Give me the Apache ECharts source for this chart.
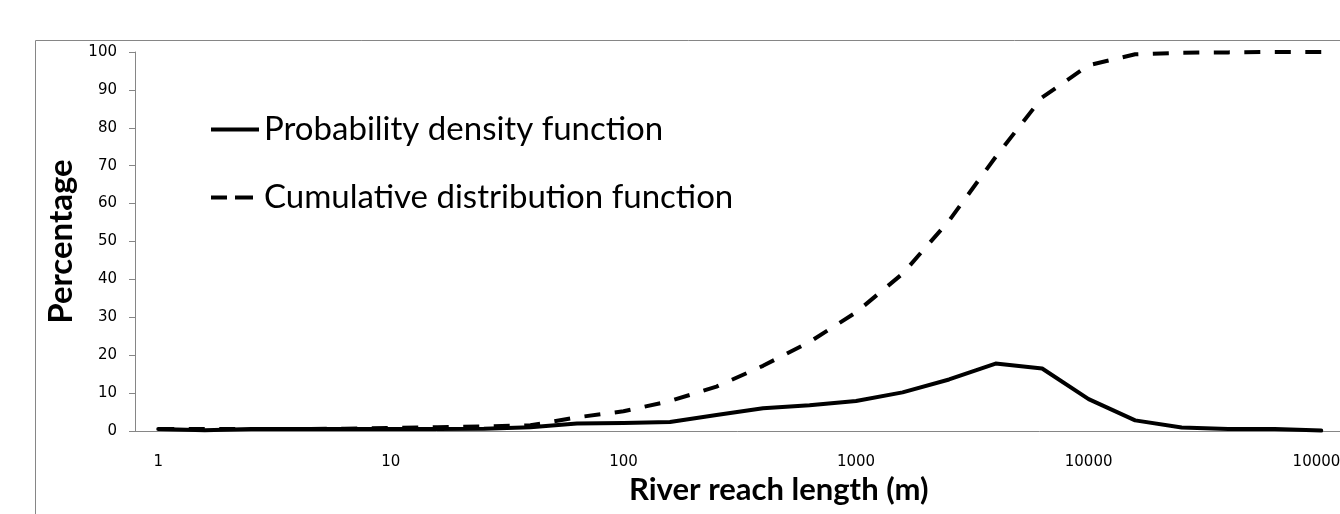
<!DOCTYPE html>
<html>
<head>
<meta charset="utf-8">
<style>
  html, body { margin: 0; padding: 0; background: #fff; }
  #chart { width: 1340px; height: 514px; }
</style>
<script src="https://cdn.jsdelivr.net/npm/echarts@6/dist/echarts.min.js"></script>
</head>
<body>
<div id="chart"></div>
<script>
// reach length classes (log steps, only every 5th labelled)
const lengths = ['1', '1.6', '2.5', '4', '6.3', '10', '16', '25', '40', '63',
  '100', '160', '250', '400', '630', '1000', '1600', '2500', '4000', '6300',
  '10000', '16000', '25000', '40000', '63000', '100000'];
const pdf = [0.5, 0.2, 0.5, 0.5, 0.5, 0.5, 0.5, 0.6, 1.0, 2.0,
  2.1, 2.4, 4.2, 6.0, 6.8, 7.9, 10.2, 13.6, 17.8, 16.5,
  8.4, 2.8, 0.9, 0.5, 0.5, 0.1];
const cdf = [0.5, 0.5, 0.5, 0.5, 0.6, 0.8, 1.0, 1.2, 1.5, 3.6,
  5.2, 7.9, 11.7, 17.2, 23.5, 31.3, 41.5, 55.5, 72.3, 88.0,
  96.5, 99.4, 99.8, 99.9, 100, 100];
const yTicks = { min: 0, max: 100, step: 10 };

const axisGray = "#868686";
const font = "Lato";

const chart = echarts.init(document.getElementById("chart"));
chart.setOption({
  animation: false,
  graphic: [
    {
      type: "rect",
      silent: true,
      shape: { x: 35.5, y: 40.5, width: 1400, height: 600 },
      style: { fill: "none", stroke: axisGray, lineWidth: 1 }
    }
  ],
  legend: {
    orient: "vertical",
    left: 206,
    top: 108,
    itemWidth: 48,
    itemHeight: 14,
    itemGap: 35,
    textStyle: { fontFamily: font, fontSize: 33, color: "#000" },
    data: [
      {
        name: "Probability density function",
        icon: "path://M0,0H48V4H0Z"
      },
      {
        // two short dashes, trailing move keeps the box 48 wide
        name: "Cumulative distribution function",
        icon: "path://M0,0H16V4H0Z M24,0H42V4H24Z M48,2"
      }
    ]
  },
  grid: {
    left: 135,
    top: 52,
    bottom: 83,
    width: 1209.5,
    containLabel: false,
    outerBoundsMode: "none"
  },
  xAxis: {
    type: "category",
    data: lengths,
    boundaryGap: true,
    name: "River reach length (m)",
    nameLocation: "middle",
    nameGap: 41,
    nameTextStyle: {
      fontFamily: font,
      fontSize: 31,
      fontWeight: "bold",
      color: "#000",
      padding: [0, 0, 0, 78]
    },
    axisLine: { lineStyle: { color: axisGray, width: 1 } },
    axisTick: { interval: 0, length: 5, lineStyle: { color: axisGray } },
    axisLabel: {
      interval: 4,
      margin: 24,
      fontFamily: "DejaVu Sans",
      fontSize: 15,
      color: "#000"
    },
    splitLine: { show: false }
  },
  yAxis: {
    type: "value",
    min: yTicks.min,
    max: yTicks.max,
    interval: yTicks.step,
    name: "Percentage",
    nameLocation: "middle",
    nameRotate: 90,
    nameGap: 57,
    nameTextStyle: {
      fontFamily: font,
      fontSize: 33,
      fontWeight: "bold",
      color: "#000"
    },
    axisLine: { show: true, lineStyle: { color: axisGray, width: 1 } },
    axisTick: { show: true, length: 6, lineStyle: { color: axisGray } },
    axisLabel: {
      margin: 18,
      fontFamily: "DejaVu Sans",
      fontSize: 15,
      color: "#000"
    },
    splitLine: { show: false }
  },
  series: [
    {
      name: "Probability density function",
      type: "line",
      data: pdf,
      symbol: "none",
      lineStyle: { color: "#000", width: 4, join: "round", cap: "round" },
      itemStyle: { color: "#000" }
    },
    {
      name: "Cumulative distribution function",
      type: "line",
      data: cdf,
      symbol: "none",
      lineStyle: { color: "#000", width: 4, type: [16, 14.5], join: "round" },
      itemStyle: { color: "#000" }
    }
  ]
});
</script>
</body>
</html>
